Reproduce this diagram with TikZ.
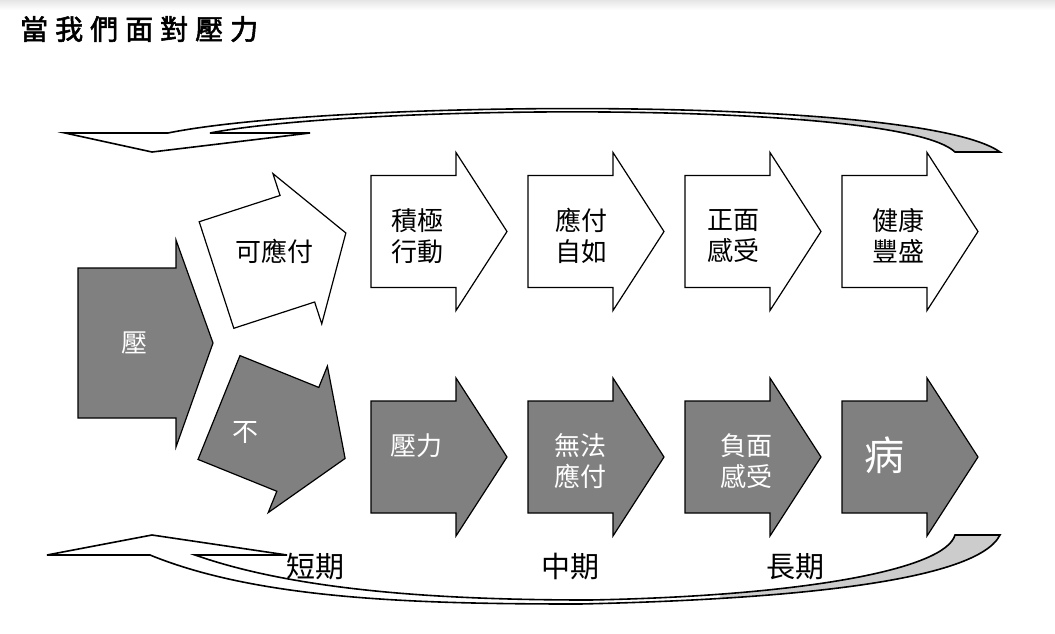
\documentclass[tikz,border=0pt]{standalone}
\usepackage{fontspec}
\newfontfamily\cjk{Noto Sans CJK TC}
\newfontfamily\cjktitle{Noto Sans CJK TC}[LetterSpace=25, FakeBold=2]
\definecolor{arrowgray}{RGB}{128,128,128}
\definecolor{bandgray}{RGB}{204,204,204}
\tikzset{
  flowarrow/.style={draw, line width=1.2pt, line join=miter},
  band/.style={draw, line width=1.6pt, line join=miter},
  lbl/.style={font=\cjk\fontsize{26}{31}\selectfont, align=center, inner sep=0pt},
  wlbl/.style={lbl, text=white},
  period/.style={font=\cjk\fontsize{29}{32}\selectfont, inner sep=0pt}
}
\begin{document}
\begin{tikzpicture}[x=1pt, y=-1pt]
\useasboundingbox (0,0) rectangle (1055,633);
\shade[top color=black!10, bottom color=white] (0,0) rectangle (1055,10);

% return arrow on top
\fill[bandgray] (168,133) .. controls (330,100) and (920,95) .. (1000,152) -- (955,152) .. controls (900,100) and (360,104) .. (210,133) -- cycle;
\begin{scope}
  \clip (0,0) rectangle (800,200);
  \fill[white] (168,133) .. controls (330,100) and (920,95) .. (1000,152) -- (955,152) .. controls (900,100) and (360,104) .. (210,133) -- cycle;
\end{scope}
\fill[white] (65,133) -- (152,152) -- (310,133) -- cycle;
\draw[band] (65,133) -- (152,152) -- (310,133) -- (210,133) .. controls (360,104) and (900,100) .. (955,152) -- (1000,152) .. controls (920,95) and (330,100) .. (168,133) -- cycle;

% return arrow at the bottom
\fill[bandgray] (150,555) .. controls (260,600) and (420,604) .. (580,604) .. controls (760,600) and (975,585) .. (1000,535) -- (955,535) .. controls (945,570) and (800,596) .. (590,600) .. controls (450,600) and (300,592) .. (195,555) -- cycle;
\begin{scope}
  \clip (0,400) rectangle (720,633);
  \fill[white] (150,555) .. controls (260,600) and (420,604) .. (580,604) .. controls (760,600) and (975,585) .. (1000,535) -- (955,535) .. controls (945,570) and (800,596) .. (590,600) .. controls (450,600) and (300,592) .. (195,555) -- cycle;
\end{scope}
\fill[white] (47,555) -- (152,535) -- (287,555) -- cycle;
\draw[band] (47,555) -- (152,535) -- (287,555) -- (195,555) .. controls (300,592) and (450,600) .. (590,600) .. controls (800,596) and (945,570) .. (955,535) -- (1000,535) .. controls (975,585) and (760,600) .. (580,604) .. controls (420,604) and (260,600) .. (150,555) -- cycle;

% block arrows
\draw[flowarrow, fill=arrowgray] (78,268) -- (176,268) -- (176,240) -- (213,343) -- (176,447) -- (176,418) -- (78,418) -- cycle;
\foreach \px/\py/\rot/\col in {216.5/275/18/white, 219/407.5/-22/arrowgray,
    371/231.5/0/white, 528/231.5/0/white, 685/231.5/0/white, 842/231.5/0/white,
    371/457/0/arrowgray, 528/457/0/arrowgray, 685/457/0/arrowgray, 842/457/0/arrowgray}
  \draw[flowarrow, fill=\col, shift={(\px,\py)}, rotate=\rot]
    (0,-56) -- (85,-56) -- (85,-79) -- (136,0) -- (85,79) -- (85,56) -- (0,56) -- cycle;

% labels
\node[anchor=west, font=\cjktitle\fontsize{28}{32}\selectfont, inner sep=0pt] (title) at (20,29) {當我們面對壓力};
\node[wlbl] (ya) at (134,343) {壓};
\node[lbl] (keyingfu) at (274,251) {可應付};
\node[wlbl] (bu) at (245,432) {不};
\node[lbl] (jiji) at (417,236) {積極\\行動};
\node[lbl] (yingfu) at (581,236) {應付\\自如};
\node[lbl] (zhengmian) at (733,236) {正面\\感受};
\node[lbl] (jiankang) at (898,236) {健康\\豐盛};
\node[wlbl] (yali) at (416,446) {壓力};
\node[wlbl] (wufa) at (580,461) {無法\\應付};
\node[wlbl] (fumian) at (746,461) {負面\\感受};
\node[wlbl, font=\cjk\fontsize{40}{44}\selectfont] (bing) at (884,455) {病};
\node[period] (duanqi) at (315,567) {短期};
\node[period] (zhongqi) at (570,567) {中期};
\node[period] (changqi) at (795,567) {長期};
\end{tikzpicture}
\end{document}
